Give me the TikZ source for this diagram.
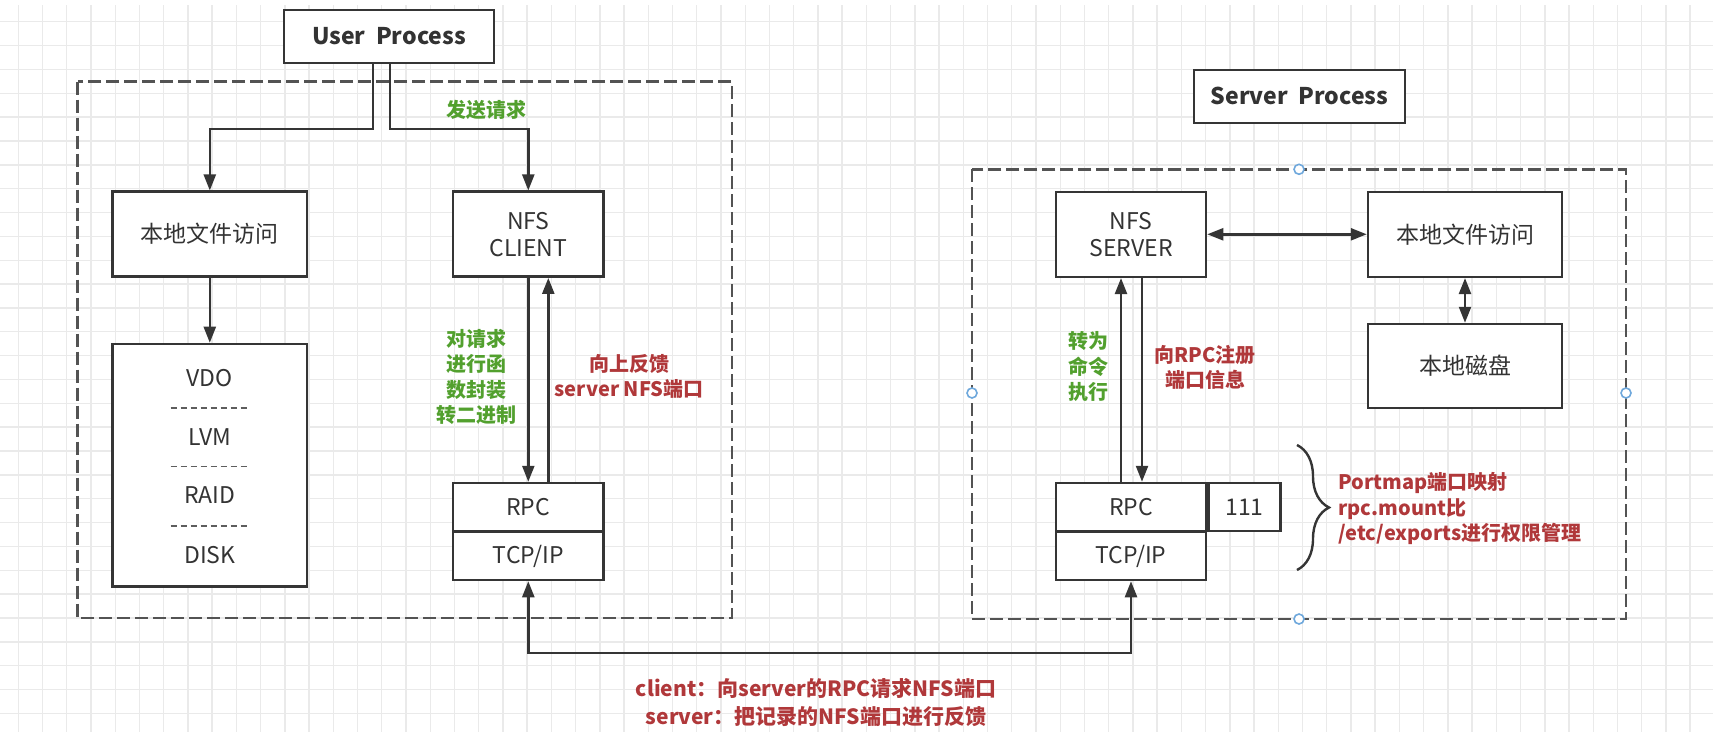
\documentclass[tikz,border=0pt]{standalone}
\usepackage{fontspec}
\setmainfont{Noto Sans CJK SC}
\usetikzlibrary{arrows.meta,calc,decorations.pathreplacing}
\definecolor{boxline}{HTML}{353535}
\definecolor{txt}{HTML}{333333}
\definecolor{grn}{HTML}{52A02E}
\definecolor{rd}{HTML}{B0383A}
\definecolor{gridc}{HTML}{EAEAEA}
\definecolor{handle}{HTML}{6FA8DC}
\begin{document}
\begin{tikzpicture}[x=0.5pt,y=-0.5pt,
  box/.style={draw=boxline,line width=1.25pt,fill=white,text=txt,inner sep=0pt,align=center,font=\fontsize{11.5}{13.4}\selectfont},
  title/.style={box,font=\fontsize{11.5}{13}\selectfont\bfseries},
  plain/.style={text=txt,inner sep=0pt,font=\fontsize{11.5}{13.4}\selectfont},
  lab/.style={font=\fontsize{10}{12.75}\selectfont\bfseries,align=center,inner sep=0pt},
  conn/.style={draw=boxline,line width=1.2pt},
  tip/.style={-{Triangle[length=8pt,width=6pt]}},
  dtip/.style={{Triangle[length=8pt,width=6pt]}-{Triangle[length=8pt,width=6pt]}},
  dbox/.style={draw=boxline!85,line width=1.3pt,dash pattern=on 6.5pt off 2.5pt},
  sepline/.style={draw=boxline!80,line width=0.6pt,dash pattern=on 3pt off 2pt},
]
\useasboundingbox (0,0) rectangle (1713,739);
% grid
\foreach \i in {0,...,69} \draw[gridc,line width=0.7pt] ({18.3+24.23*\i},5) -- ({18.3+24.23*\i},732);
\foreach \j in {0,...,29} \draw[gridc,line width=0.7pt] (0,{21.7+23.85*\j}) -- (1713,{21.7+23.85*\j});
% dashed groups
\draw[dbox] (77.6,81.7) rectangle (732,618);
\draw[dbox] (972,169.3) rectangle (1626,619);
% client side
\node[title,minimum width=105pt,minimum height=26.35pt] (UP) at (389,36.4) {User\ \ Process};
\node[box,minimum width=97.25pt,minimum height=42.5pt] (LF) at (209.8,234.2) {本地文件访问};
\node[box,minimum width=75.25pt,minimum height=42.5pt] (NC) at (528.3,234.2) {NFS\\CLIENT};
\node[box,minimum width=97.25pt,minimum height=121.35pt] (STK) at (209.8,465.3) {};
\node[plain] (vdo) at (209.8,378) {VDO};
\node[plain] (lvm) at (209.8,436.7) {LVM};
\node[plain] (raid) at (209.8,495) {RAID};
\node[plain] (dsk) at (209.8,555) {DISK};
\draw[sepline] (170.6,408) -- (249.6,408);
\draw[sepline] (170.6,466.7) -- (249.6,466.7);
\draw[sepline] (170.6,526) -- (249.6,526);
\node[box,minimum width=75.25pt,minimum height=24pt] (RC) at (528.3,507) {RPC};
\node[box,minimum width=75.25pt,minimum height=24pt] (TC) at (528.3,556) {TCP/IP};
% server side
\node[title,minimum width=105.5pt,minimum height=26.35pt] (SP) at (1299.5,96.4) {Server\ \ Process};
\node[box,minimum width=75pt,minimum height=42.5pt] (NS) at (1131,234.3) {NFS\\SERVER};
\node[box,minimum width=97pt,minimum height=42.5pt] (LF2) at (1465,234.3) {本地文件访问};
\node[box,minimum width=97pt,minimum height=42pt] (LD) at (1465,366) {本地磁盘};
\node[box,minimum width=75pt,minimum height=24pt] (RS) at (1131,507) {RPC};
\node[box,minimum width=36pt,minimum height=24pt,anchor=west] (P111) at (RS.east) {111};
\node[box,minimum width=75pt,minimum height=24pt] (TS) at (1131,556) {TCP/IP};
% connectors
\draw[conn,tip] ([xshift=-8pt]UP.south) -- ++(0,65) -| (LF.north);
\draw[conn,tip] ([xshift=0.5pt]UP.south) -- ++(0,65) -| (NC.north);
\draw[conn,tip] (LF.south) -- (STK.north);
\draw[conn,tip] (NC.south) -- (RC.north);
\draw[conn,tip] ([xshift=10pt]RC.north) -- ([xshift=10pt]NC.south);
\draw[conn,dtip] (TC.south) -- ++(0,71.7) -| (TS.south);
\draw[conn,tip] ([xshift=-5pt]RS.north) -- ([xshift=-5pt]NS.south);
\draw[conn,tip] ([xshift=5.5pt]NS.south) -- ([xshift=5.5pt]RS.north);
\draw[conn,dtip] (NS.east) -- (LF2.west);
\draw[conn,dtip] (LF2.south) -- (LD.north);
% brace
\coordinate (bt) at (1297,445);
\coordinate (bb) at (1297,570);
\draw[draw=boxline,line width=1.2pt,decorate,decoration={brace,amplitude=16pt}] (bt) -- (bb);
% labels
\node[lab,text=grn] (l1) at (486,110) {发送请求};
\node[lab,text=grn] (l2) at (476,377) {对请求\\进行函\\数封装\\转二进制};
\node[lab,text=rd] (l3) at (629,376.5) {向上反馈\\server NFS端口};
\node[lab,text=grn] (l4) at (1088,366.7) {转为\\命令\\执行};
\node[lab,text=rd] (l5) at (1205,367.5) {向RPC注册\\端口信息};
\node[lab,text=rd,align=left,anchor=west] (l6) at (1338,509) {Portmap端口映射\\rpc.mount比\\/etc/exports进行权限管理};
\node[lab,text=rd,font=\fontsize{10.5}{14}\selectfont\bfseries] (l7) at (816,703) {client：向server的RPC请求NFS端口\\server：把记录的NFS端口进行反馈};
% selection handles
\foreach \p in {(1299,169.3),(972,393),(1626,393),(1299,619)} \draw[handle,fill=white,line width=0.8pt] \p circle (2.5pt);
\end{tikzpicture}
\end{document}
